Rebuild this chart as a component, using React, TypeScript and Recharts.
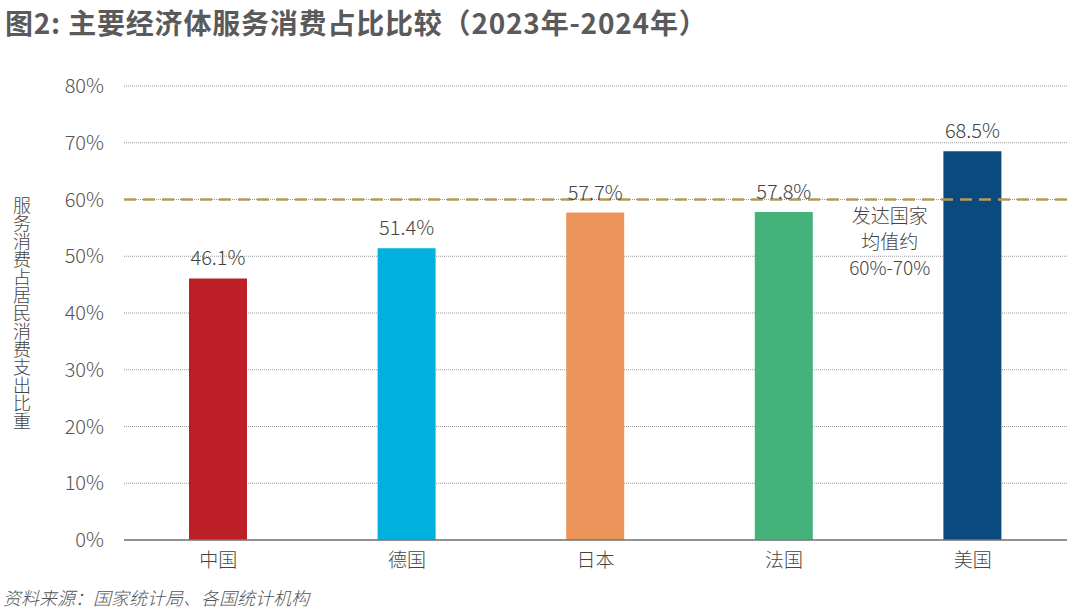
import { BarChart, Bar, XAxis, YAxis, CartesianGrid, ReferenceLine, LabelList, Cell } from 'recharts'

const countries = ['中国', '德国', '日本', '法国', '美国']
const shares = [46.1, 51.4, 57.7, 57.8, 68.5]
const barColors = ['#BC1F26', '#00B0DE', '#EB955B', '#45B27A', '#0B4A7E']
const yTicks = [0, 10, 20, 30, 40, 50, 60, 70, 80]
const benchmark = 60
const benchmarkNote = ['发达国家', '均值约', '60%-70%']

const FONT = '"Noto Sans CJK SC", "Noto Sans", sans-serif'

const data = countries.map((name, i) => ({ name, value: shares[i], color: barColors[i] }))

function NoteLabel(props: any) {
  const { viewBox } = props
  // 注释放在法国和美国之间
  const cx = viewBox.x + viewBox.width * 0.812
  return (
    <text x={cx} y={viewBox.y} textAnchor="middle" fill="#444" fontSize={19} fontWeight={300} fontFamily={FONT}>
      {benchmarkNote.map((line, i) => (
        <tspan key={line} x={cx} dy={i === 0 ? 23 : 26}>{line}</tspan>
      ))}
    </text>
  )
}

function VerticalTitle(props: any) {
  const { viewBox } = props
  const cy = viewBox.y + viewBox.height / 2
  return (
    <text
      x={22}
      y={cy}
      textAnchor="middle"
      fill="#444"
      fontSize={18}
      fontWeight={300}
      fontFamily={FONT}
      style={{ writingMode: 'vertical-rl' } as any}
    >
      服务消费占居民消费支出比重
    </text>
  )
}

export default function App() {
  return (
    <div style={{ position: 'absolute', left: 0, top: 0, width: 1080, height: 613, background: '#fff', fontFamily: FONT }}>
      <div style={{ position: 'absolute', left: 5, top: 4, fontSize: 28, fontWeight: 700, color: '#5a5a5a', lineHeight: '36px', letterSpacing: 0.8, whiteSpace: 'nowrap' }}>
        图2: 主要经济体服务消费占比比较（2023年-2024年）
      </div>
      <BarChart
        width={1080}
        height={613}
        data={data}
        margin={{ top: 86, right: 13, bottom: 43, left: 44 }}
        barCategoryGap={0}
      >
        <CartesianGrid vertical={false} stroke="#9a9a9a" strokeDasharray="1 1" />
        <XAxis
          dataKey="name"
          height={30}
          tickLine={false}
          axisLine={{ stroke: '#777', strokeWidth: 1.5 }}
          tick={{ fill: '#444', fontSize: 19, fontWeight: 300, fontFamily: FONT }}
          tickMargin={8}
        />
        <YAxis
          width={80}
          domain={[0, 80]}
          ticks={yTicks}
          interval={0}
          tickFormatter={(v: number) => `${v}%`}
          axisLine={false}
          tickLine={false}
          tickMargin={14}
          tick={{ fill: '#555', fontSize: 20, fontWeight: 300, fontFamily: FONT }}
          label={<VerticalTitle />}
        />
        <ReferenceLine
          y={benchmark}
          stroke="#B39A5C"
          strokeWidth={2.5}
          strokeDasharray="12 7"
          label={<NoteLabel />}
        />
        <Bar dataKey="value" barSize={58} isAnimationActive={false}>
          {data.map(d => (
            <Cell key={d.name} fill={d.color} />
          ))}
          <LabelList
            dataKey="value"
            position="top"
            offset={13}
            formatter={(v: any) => `${Number(v).toFixed(1)}%`}
            fill="#444"
            fontSize={20}
            fontWeight={300}
            fontFamily={FONT}
          />
        </Bar>
      </BarChart>
      <div style={{ position: 'absolute', left: 3, top: 585, fontSize: 18, fontWeight: 300, fontStyle: 'italic', color: '#555', lineHeight: '24px', whiteSpace: 'nowrap' }}>
        资料来源：国家统计局、各国统计机构
      </div>
    </div>
  )
}
